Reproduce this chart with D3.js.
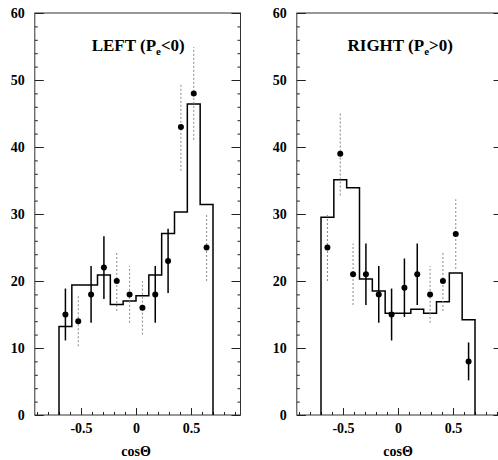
<!DOCTYPE html>
<html>
<head>
<meta charset="utf-8">
<script src="https://cdn.jsdelivr.net/npm/d3@7"></script>
<style>
  body { margin: 0; background: #fff; }
  svg text { font-family: "Liberation Serif", "DejaVu Serif", serif; font-weight: bold; }
</style>
</head>
<body>
<svg id="chart" width="498" height="460"></svg>
<script>
// cos(theta) distributions, 12 bins between -0.7 and 0.7
const histLo = -0.7, histHi = 0.7, nBins = 12;

// LEFT (Pe<0): data points and MC histogram
const leftCounts = [15, 14, 18, 22, 20, 18, 16, 18, 23, 43, 48, 25];
const leftHist = [13.2, 19.4, 19.4, 20.9, 16.5, 17.0, 17.8, 20.9, 27.1, 30.3, 46.4, 31.4];

// RIGHT (Pe>0)
const rightCounts = [25, 39, 21, 21, 18, 15, 19, 21, 18, 20, 27, 8];
const rightHist = [29.5, 35.1, 33.9, 20.3, 18.5, 15.2, 15.2, 15.8, 15.2, 16.9, 21.2, 14.2];

const yMajor = [0, 10, 20, 30, 40, 50, 60];
const xLabels = [-0.5, 0, 0.5];

// which error bars come out faint in the scan (bin index)
const leftFaint = [1, 4, 5, 6, 9, 10, 11];
const rightFaint = [0, 1, 2, 8, 9, 10];

const svg = d3.select("#chart");

const y = d3.scaleLinear().domain([0, 60]).range([415, 13]);
const yMinor = d3.range(0, 61, 2).filter(v => v % 10 !== 0);
const xMinor = d3.range(-9, 10).map(i => i / 10).filter(v => Math.abs(v * 10) % 5 !== 0);
const binW = (histHi - histLo) / nBins;

function drawPanel(x0, title, sign, counts, hist, faint) {
  const x = d3.scaleLinear().domain([-0.92, 0.95]).range([x0 - 0.92 * 110, x0 + 0.95 * 110]);
  const [xl, xr] = x.range();
  const g = svg.append("g");

  // frame
  g.append("rect")
    .attr("x", xl).attr("y", y(60))
    .attr("width", xr - xl).attr("height", y(0) - y(60))
    .attr("fill", "none").attr("stroke", "#333").attr("stroke-width", 1);

  // y tick labels
  const yl = g.append("g").attr("transform", `translate(${xl},0)`)
    .call(d3.axisLeft(y).tickValues(yMajor).tickSize(0).tickPadding(10));
  yl.select(".domain").remove();
  yl.selectAll("text").attr("font-size", 14).attr("font-family", null);

  // inward ticks, left and right
  const tickStyle = sel => {
    sel.select(".domain").remove();
    sel.selectAll("line").attr("stroke", "#222");
  };
  g.append("g").attr("transform", `translate(${xl},0)`)
    .call(d3.axisRight(y).tickValues(yMajor).tickSize(9).tickFormat("")).call(tickStyle);
  g.append("g").attr("transform", `translate(${xl},0)`)
    .call(d3.axisRight(y).tickValues(yMinor).tickSize(3).tickFormat("")).call(tickStyle);
  g.append("g").attr("transform", `translate(${xr},0)`)
    .call(d3.axisLeft(y).tickValues(yMajor).tickSize(9).tickFormat("")).call(tickStyle);
  g.append("g").attr("transform", `translate(${xr},0)`)
    .call(d3.axisLeft(y).tickValues(yMinor).tickSize(3).tickFormat("")).call(tickStyle);

  // x ticks
  g.append("g").attr("transform", `translate(0,${y(0)})`)
    .call(d3.axisTop(x).tickValues(xLabels).tickSize(7).tickFormat("")).call(tickStyle);
  g.append("g").attr("transform", `translate(0,${y(0)})`)
    .call(d3.axisTop(x).tickValues(xMinor).tickSize(3).tickFormat("")).call(tickStyle);

  const xa = g.append("g").attr("transform", `translate(0,${y(0)})`)
    .call(d3.axisBottom(x).tickValues(xLabels).tickSize(0).tickPadding(8).tickFormat(d => String(d)));
  xa.select(".domain").remove();
  xa.selectAll("text").attr("font-size", 14).attr("font-family", null);

  // axis title
  g.append("text")
    .attr("x", x(0)).attr("y", 456)
    .attr("text-anchor", "middle").attr("font-size", 14)
    .text("cosΘ");

  // panel title
  const t = g.append("text")
    .attr("x", x(0.02)).attr("y", 51)
    .attr("text-anchor", "middle").attr("font-size", 17);
  t.append("tspan").text(title + " (P");
  t.append("tspan").attr("font-size", 11).attr("dy", 4).text("e");
  t.append("tspan").attr("dy", -4).text(sign + "0)");

  // histogram
  const edges = d3.range(nBins + 1).map(i => histLo + i * binW);
  const pts = [[edges[0], 0]];
  hist.forEach((h, i) => {
    pts.push([edges[i], h]);
    pts.push([edges[i + 1], h]);
  });
  pts.push([edges[nBins], 0]);
  g.append("path")
    .attr("d", d3.line().x(d => x(d[0])).y(d => y(d[1]))(pts))
    .attr("fill", "none").attr("stroke", "#000").attr("stroke-width", 1.5);

  // data points with sqrt(N) errors
  const data = counts.map((c, i) => ({ c, cx: histLo + (i + 0.5) * binW, faint: faint.includes(i) }));
  g.selectAll("line.err").data(data).enter()
    .append("line").attr("class", "err")
    .attr("x1", d => x(d.cx)).attr("x2", d => x(d.cx))
    .attr("y1", d => y(d.c - Math.sqrt(d.c)))
    .attr("y2", d => y(d.c + Math.sqrt(d.c)))
    .attr("stroke", d => d.faint ? "#888" : "#000")
    .attr("stroke-width", d => d.faint ? 1 : 1.5)
    .attr("stroke-dasharray", d => d.faint ? "2,2" : null);
  g.selectAll("circle.pt").data(data).enter()
    .append("circle").attr("class", "pt")
    .attr("cx", d => x(d.cx)).attr("cy", d => y(d.c))
    .attr("r", 3).attr("fill", "#000");
}

drawPanel(136, "LEFT", "<", leftCounts, leftHist, leftFaint);
drawPanel(398, "RIGHT", ">", rightCounts, rightHist, rightFaint);
</script>
</body>
</html>
